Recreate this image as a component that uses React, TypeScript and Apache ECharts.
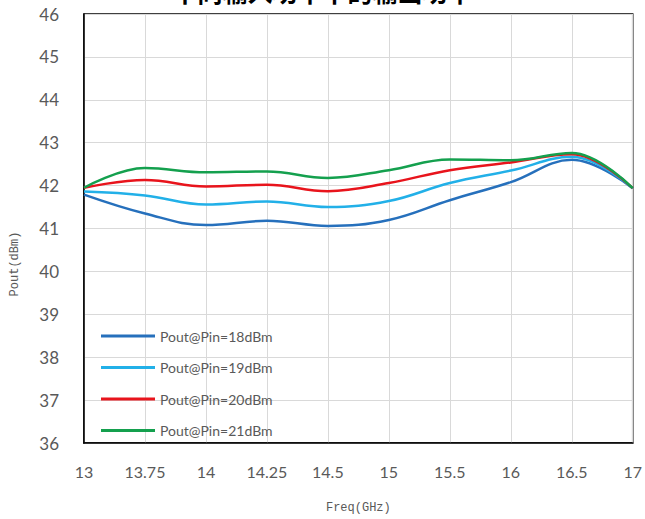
import React, { useEffect, useRef } from "react";
import * as echarts from "echarts";

const categories = ["13", "13.75", "14", "14.25", "14.5", "15", "15.5", "16", "16.5", "17"];
const pin18 = [41.79, 41.35, 41.08, 41.18, 41.06, 41.2, 41.66, 42.08, 42.6, 41.94];
const pin19 = [41.86, 41.77, 41.56, 41.63, 41.5, 41.64, 42.06, 42.35, 42.67, 41.94];
const pin20 = [41.95, 42.13, 41.98, 42.02, 41.87, 42.06, 42.36, 42.54, 42.73, 41.94];
const pin21 = [41.95, 42.41, 42.31, 42.33, 42.18, 42.36, 42.61, 42.59, 42.76, 41.94];
const seriesNames = ["Pout@Pin=18dBm", "Pout@Pin=19dBm", "Pout@Pin=20dBm", "Pout@Pin=21dBm"];
const colors = ["#2670BC", "#22B0E8", "#E8141C", "#14A04E"];
const titleText = "不同输入功率下的输出功率";

export default function App() {
  const ref = useRef<HTMLDivElement>(null);
  useEffect(() => {
    const chart = echarts.init(ref.current!, null, { renderer: "svg" });
    const data = [pin18, pin19, pin20, pin21];
    chart.setOption({
      animation: false,
      color: colors,
      grid: {
        left: 84,
        right: 12,
        top: 14,
        bottom: 69,
        show: true,
        borderColor: "#000",
        borderWidth: 1.5,
        backgroundColor: "transparent",
      },
      graphic: [
        {
          type: "text",
          left: "center",
          top: -22,
          style: {
            text: titleText,
            font: "bold 25px 'Noto Sans CJK SC'",
            fill: "#000",
          },
        },
        {
          type: "text",
          x: 15,
          y: 264,
          rotation: Math.PI / 2,
          style: {
            text: "Pout(dBm)",
            font: "12px 'Liberation Mono'",
            fill: "#595959",
            align: "center",
            verticalAlign: "middle",
          },
        },
      ],
      legend: {
        orient: "vertical",
        left: 96,
        top: 324,
        itemWidth: 54,
        itemHeight: 3,
        itemGap: 17.5,
        icon: "rect",
        textStyle: { fontFamily: "Lato", fontSize: 14, color: "#595959" },
        data: seriesNames,
      },
      xAxis: {
        type: "category",
        data: categories,
        boundaryGap: false,
        name: "Freq(GHz)",
        nameLocation: "middle",
        nameGap: 59,
        nameTextStyle: { fontFamily: "Liberation Mono", fontSize: 12, color: "#595959" },
        axisLine: { lineStyle: { color: "#000", width: 1.5 } },
        axisTick: { show: false },
        axisLabel: { margin: 20, fontFamily: "Lato", fontSize: 16, color: "#595959" },
        splitLine: { show: true, lineStyle: { color: "#D9D9D9", width: 1 } },
      },
      yAxis: {
        type: "value",
        min: 36,
        max: 46,
        interval: 1,
        axisLine: { show: true, lineStyle: { color: "#000", width: 1.5 } },
        axisTick: { show: false },
        axisLabel: { margin: 25, fontFamily: "Lato", fontSize: 17, color: "#595959" },
        splitLine: { show: true, lineStyle: { color: "#D9D9D9", width: 1 } },
      },
      series: data.map((d, i) => ({
        name: seriesNames[i],
        type: "line",
        data: d,
        smooth: 0.4,
        symbol: "none",
        lineStyle: { width: 2.5, color: colors[i] },
        z: 2 + i,
      })),
    });
    return () => chart.dispose();
  }, []);
  return <div ref={ref} style={{ width: 645, height: 519, position: "absolute", left: 0, top: 0 }} />;
}
